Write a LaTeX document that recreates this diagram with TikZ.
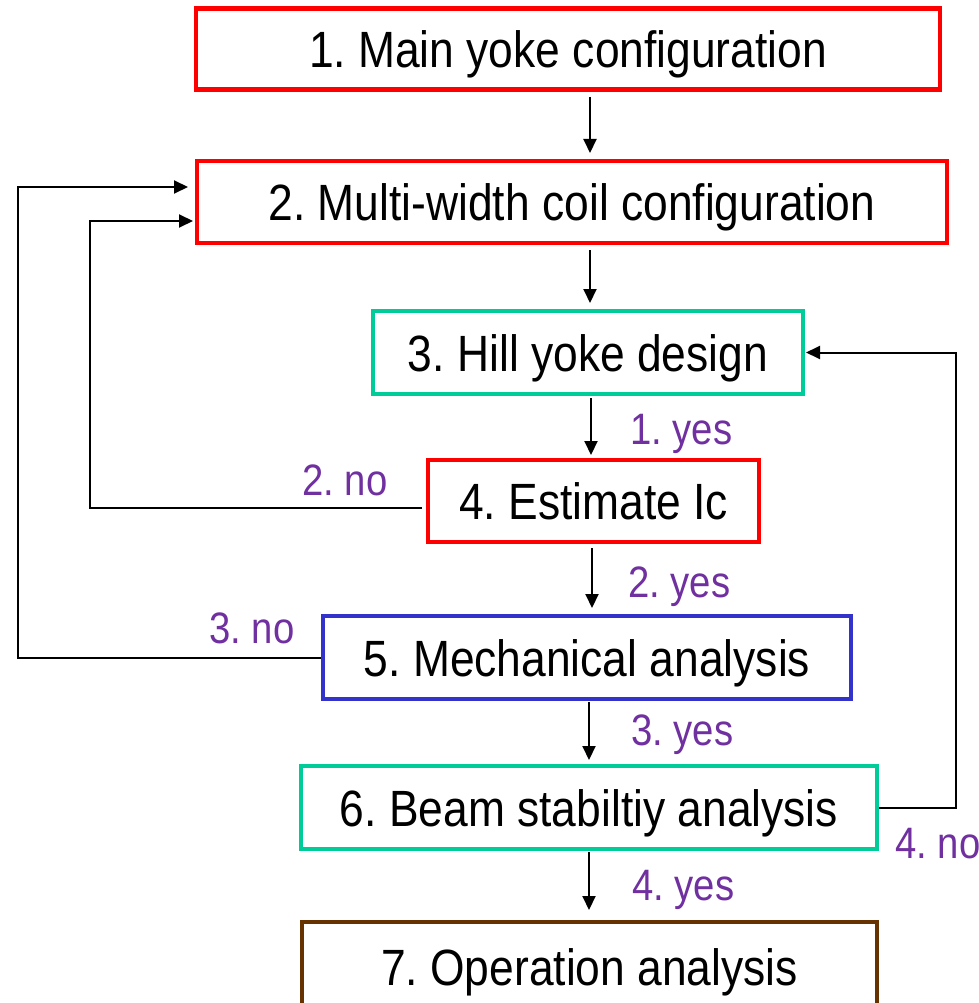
\documentclass[tikz,border=0pt]{standalone}
\usepackage{fontspec}
\setmainfont{Liberation Sans}[FakeStretch=0.87]
\usetikzlibrary{arrows.meta}
\definecolor{cred}{RGB}{255,0,0}
\definecolor{cteal}{RGB}{0,204,153}
\definecolor{cblue}{RGB}{51,51,204}
\definecolor{cbrown}{RGB}{102,51,0}
\definecolor{cpurple}{RGB}{112,48,160}
\frenchspacing
\begin{document}
\begin{tikzpicture}[x=1pt,y=-1pt,
  box/.style={draw=#1, line width=4.5pt, rectangle, inner sep=0pt, outer sep=0pt,
    font=\fontsize{51}{60}\selectfont, text height=37pt, text depth=0pt},
  lbl/.style={text=cpurple, inner sep=0pt, anchor=base west, font=\fontsize{44}{52}\selectfont},
  arr/.style={-{Triangle[length=14pt,width=13pt]}, line width=2pt, black}]
\useasboundingbox (0,0) rectangle (978,1003);
\node[box=cred, minimum width=744pt, minimum height=81pt] (n1) at (568,49) {1. Main yoke configuration};
\node[box=cred, minimum width=750pt, minimum height=82pt] (n2) at (572,202) {2. Multi-width coil configuration};
\node[box=cteal, minimum width=430pt, minimum height=83pt] (n3) at (588,352.5) {3. Hill yoke design};
\node[box=cred, minimum width=331pt, minimum height=82pt] (n4) at (593.5,501) {4. Estimate Ic};
\node[box=cblue, minimum width=528pt, minimum height=83pt] (n5) at (587,657.5) {5. Mechanical analysis};
\node[box=cteal, minimum width=576pt, minimum height=83pt] (n6) at (589,807.5) {6. Beam stabiltiy analysis};
\node[box=cbrown, minimum width=575pt, minimum height=90pt] (n7) at (589.5,967) {7. Operation analysis};
\coordinate (a1) at (590,0);
\coordinate (a2) at (590,0);
\coordinate (a3) at (591,0);
\coordinate (a4) at (592,0);
\coordinate (a5) at (589,0);
\coordinate (a6) at (589,0);
\draw[arr, shorten <=7.5pt, shorten >=8pt] (n1.south -| a1) -- (n2.north -| a1);
\draw[arr, shorten <=7pt, shorten >=8pt] (n2.south -| a2) -- (n3.north -| a2);
\draw[arr, shorten <=4pt, shorten >=5pt] (n3.south -| a3) -- (n4.north -| a3);
\draw[arr, shorten <=6pt, shorten >=8pt] (n4.south -| a4) -- (n5.north -| a4);
\draw[arr, shorten <=3pt, shorten >=6pt] (n5.south -| a5) -- (n6.north -| a5);
\draw[arr, shorten <=3pt, shorten >=12pt] (n6.south -| a6) -- (n7.north -| a6);
% feedback loops
\draw[arr] ([xshift=-6pt,yshift=-7pt]n4.west) -- ++(-332,0) |- ([xshift=-4pt,yshift=-19pt]n2.west);
\draw[arr] ([xshift=-2pt]n5.west) -- ++(-303,0) |- ([xshift=-9pt,yshift=15pt]n2.west);
\draw[arr] ([xshift=2pt]n6.east) -- ++(77,0) |- ([xshift=3pt]n3.east);
% labels
\node[lbl] (l1) at (630,444) {1. yes};
\node[lbl] (l2) at (302,495) {2. no};
\node[lbl] (l3) at (628,597) {2. yes};
\node[lbl] (l4) at (209,643) {3. no};
\node[lbl] (l5) at (631,745) {3. yes};
\node[lbl] (l6) at (895,858) {4. no};
\node[lbl] (l7) at (632,900) {4. yes};
\end{tikzpicture}
\end{document}
